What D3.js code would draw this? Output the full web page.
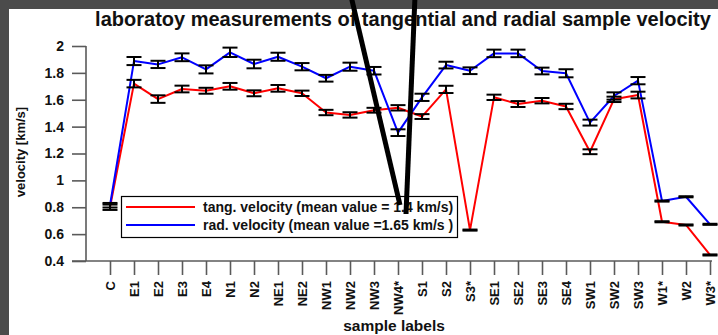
<!DOCTYPE html>
<html>
<head>
<meta charset="utf-8">
<script src="https://cdn.jsdelivr.net/npm/d3@7"></script>
<style>
  html, body { margin: 0; padding: 0; background: #ffffff; }
  svg { display: block; }
  text { font-family: "Liberation Sans", Arial, sans-serif; font-weight: bold; fill: #111; }
</style>
</head>
<body>
<script>
// Sample labels along the horizontal axis
const categories = ["C", "E1", "E2", "E3", "E4", "N1", "N2", "NE1", "NE2", "NW1", "NW2", "NW3", "NW4*",
  "S1", "S2", "S3*", "SE1", "SE2", "SE3", "SE4", "SW1", "SW2", "SW3", "W1*", "W2", "W3*"];

// Tangential velocity [km/s] and its uncertainty
const tangVelocity = [0.80, 1.72, 1.605, 1.68, 1.667, 1.70, 1.648, 1.685, 1.648, 1.505, 1.487, 1.522, 1.54,
  1.475, 1.677, 0.63, 1.618, 1.568, 1.593, 1.55, 1.213, 1.603, 1.635, 0.692, 0.668, 0.445];
const tangError = [0.02, 0.028, 0.028, 0.025, 0.022, 0.025, 0.022, 0.025, 0.02, 0.02, 0.02, 0.018, 0.02,
  0.018, 0.027, 0.004, 0.02, 0.022, 0.02, 0.02, 0.018, 0.02, 0.025, 0.004, 0.004, 0.004];

// Radial velocity [km/s] and its uncertainty
const radVelocity = [0.815, 1.888, 1.863, 1.916, 1.826, 1.953, 1.866, 1.92, 1.846, 1.76, 1.846, 1.816, 1.355,
  1.618, 1.858, 1.816, 1.945, 1.945, 1.814, 1.797, 1.43, 1.628, 1.742, 0.846, 0.878, 0.673];
const radError = [0.017, 0.03, 0.027, 0.029, 0.03, 0.035, 0.032, 0.03, 0.027, 0.025, 0.03, 0.028, 0.025,
  0.027, 0.025, 0.025, 0.028, 0.028, 0.025, 0.03, 0.022, 0.027, 0.027, 0.004, 0.004, 0.004];

const yTicks = [0.4, 0.6, 0.8, 1, 1.2, 1.4, 1.6, 1.8, 2];

const legendLabels = ["tang. velocity (mean value = 1.4 km/s)", "rad. velocity (mean value =1.65 km/s )"];
const titleText = "laboratoy measurements of tangential and radial sample velocity";

// Hand-drawn pointer strokes over the legend
const pointerStrokes = [
  [[351, -4], [400, 205]],
  [[415, -4], [406, 214]]
];

const W = 718, H = 335;
const svg = d3.select("body").append("svg").attr("width", W).attr("height", H);

svg.append("rect").attr("width", W).attr("height", H).attr("fill", "#ffffff");
// window frame at the top and left
svg.append("rect").attr("x", 0).attr("y", 0).attr("width", W).attr("height", 9).attr("fill", "#4b4b4b");
svg.append("rect").attr("x", 0).attr("y", 0).attr("width", 9).attr("height", H).attr("fill", "#4b4b4b");

const x = d3.scalePoint().domain(categories).range([110, 710]);
const y = d3.scaleLinear().domain([0.4, 2]).range([261, 46]);
const axisColor = "#5a5a5a";

// y axis
const gy = svg.append("g").attr("transform", "translate(86,0)")
  .call(d3.axisLeft(y).tickValues(yTicks).tickSize(14).tickSizeOuter(0).tickPadding(8)
    .tickFormat(d => d3.format("~g")(d)));
gy.select(".domain").remove();
gy.selectAll(".tick line").attr("stroke", axisColor).attr("stroke-width", 1.6);
gy.selectAll(".tick text").attr("font-size", 14).attr("font-family", "Liberation Sans, Arial, sans-serif")
  .attr("font-weight", "bold").attr("fill", "#111");
svg.append("line").attr("x1", 86).attr("x2", 86).attr("y1", y(2)).attr("y2", y(0.4))
  .attr("stroke", axisColor).attr("stroke-width", 1.6);

// x axis
const gx = svg.append("g").attr("transform", `translate(0,${y(0.4)})`)
  .call(d3.axisBottom(x).tickSize(14).tickSizeOuter(0));
gx.select(".domain").remove();
gx.selectAll(".tick line").attr("stroke", axisColor).attr("stroke-width", 1.6);
gx.selectAll(".tick text")
  .attr("font-size", 13).attr("font-family", "Liberation Sans, Arial, sans-serif")
  .attr("font-weight", "bold").attr("fill", "#111")
  .attr("transform", "rotate(-90)")
  .attr("text-anchor", "end")
  .attr("x", -20).attr("y", 0).attr("dy", "0.36em");
svg.append("line").attr("x1", 72).attr("x2", 712).attr("y1", y(0.4)).attr("y2", y(0.4))
  .attr("stroke", axisColor).attr("stroke-width", 1.6);

// series lines
const series = [
  { values: tangVelocity, errors: tangError, color: "#ff0000" },
  { values: radVelocity, errors: radError, color: "#0000ff" }
];
const line = d3.line().x((d, i) => x(categories[i])).y(d => y(d));
series.forEach(s => {
  svg.append("path").datum(s.values).attr("d", line)
    .attr("fill", "none").attr("stroke", s.color).attr("stroke-width", 2).attr("stroke-linejoin", "round");
});

// error bars
const cap = 7.5;
series.forEach(s => {
  const g = svg.append("g").attr("stroke", "#000").attr("stroke-width", 2);
  s.values.forEach((v, i) => {
    const cx = x(categories[i]);
    const lo = y(v - s.errors[i]), hi = y(v + s.errors[i]);
    g.append("line").attr("x1", cx).attr("x2", cx).attr("y1", lo).attr("y2", hi);
    g.append("line").attr("x1", cx - cap).attr("x2", cx + cap).attr("y1", lo).attr("y2", lo);
    g.append("line").attr("x1", cx - cap).attr("x2", cx + cap).attr("y1", hi).attr("y2", hi);
  });
});

// legend
const lg = svg.append("g");
lg.append("rect").attr("x", 121.5).attr("y", 196.5).attr("width", 336).attr("height", 41)
  .attr("fill", "#fff").attr("stroke", "#000").attr("stroke-width", 1.2);
series.forEach((s, i) => {
  const ly = 207 + i * 18;
  lg.append("line").attr("x1", 126).attr("x2", 195).attr("y1", ly).attr("y2", ly)
    .attr("stroke", s.color).attr("stroke-width", 2);
  lg.append("text").attr("x", 203).attr("y", ly + 5).attr("font-size", 14).text(legendLabels[i]);
});

// titles
svg.append("text").attr("x", 403).attr("y", 26).attr("text-anchor", "middle")
  .attr("font-size", 20).text(titleText);
svg.append("text").attr("transform", "translate(25,152) rotate(-90)").attr("text-anchor", "middle")
  .attr("font-size", 13).text("velocity [km/s]");
svg.append("text").attr("x", 394).attr("y", 331).attr("text-anchor", "middle")
  .attr("font-size", 15.5).text("sample labels");

// pointer strokes
pointerStrokes.forEach(p => {
  svg.append("line").attr("x1", p[0][0]).attr("y1", p[0][1]).attr("x2", p[1][0]).attr("y2", p[1][1])
    .attr("stroke", "#000").attr("stroke-width", 5);
});
</script>
</body>
</html>
